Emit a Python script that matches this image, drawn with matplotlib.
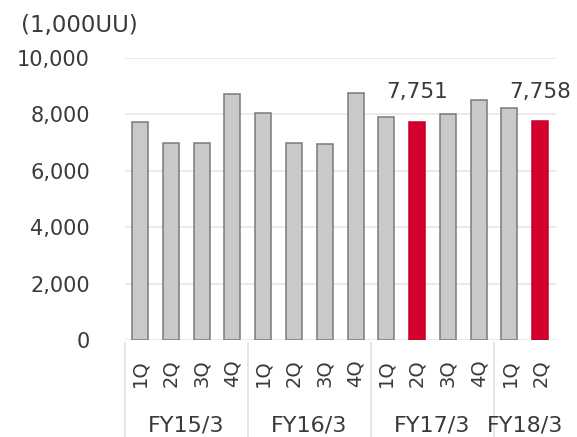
import matplotlib
matplotlib.use('Agg')
import matplotlib.pyplot as plt
import matplotlib.transforms as mtransforms
from matplotlib.lines import Line2D

# quarterly unique users (1,000UU)
years = ['FY15/3', 'FY16/3', 'FY17/3', 'FY18/3']
quarters = ['1Q', '2Q', '3Q', '4Q', '1Q', '2Q', '3Q', '4Q',
            '1Q', '2Q', '3Q', '4Q', '1Q', '2Q']
quarters_per_year = [4, 4, 4, 2]
uu = [7730, 6990, 6990, 8720,
      8050, 6990, 6970, 8780,
      7920, 7751, 8010, 8510,
      8220, 7758]
highlight = [9, 13]   # 2Q bars shown in red, with value labels

plt.rcParams['font.family'] = 'DejaVu Sans'
txt = '#3a3a3a'

fig = plt.figure(figsize=(5.77, 4.37), dpi=100)
ax = fig.add_axes([0.216, 0.222, 0.747, 0.645])

x = list(range(len(uu)))
colors = ['#d6002f' if i in highlight else '#c9c9c9' for i in x]
edges = ['#c4002a' if i in highlight else '#7a7a7a' for i in x]
ax.bar(x, uu, width=0.52, color=colors, edgecolor=edges, linewidth=1.1, zorder=3)

for i in highlight:
    ax.annotate(f'{uu[i]:,}', (i, uu[i]), xytext=(0, 14), textcoords='offset points',
                ha='center', va='bottom', fontsize=15.5, color=txt)

ax.set_xlim(-0.5, len(uu) - 0.5)
ax.set_ylim(0, 10000)
ax.set_yticks(range(0, 10001, 2000))
ax.set_yticklabels([f'{v:,}' for v in range(0, 10001, 2000)])
ax.yaxis.grid(True, color='#e6e6e6', linewidth=1.2, zorder=0)
ax.set_axisbelow(True)
for s in ax.spines.values():
    s.set_visible(False)
ax.tick_params(axis='y', length=0, pad=25, labelsize=15, labelcolor=txt)

ax.set_xticks(x)
ax.set_xticklabels(quarters, rotation=90, fontsize=14, color=txt)
ax.tick_params(axis='x', length=0, pad=14)

# fiscal year labels and separators under the quarters
trans = mtransforms.blended_transform_factory(ax.transData, ax.transAxes)
start = 0
for year, n in zip(years, quarters_per_year):
    ax.text(start + (n - 1) / 2, -0.302, year, transform=trans, ha='center',
            va='center', fontsize=16, color=txt)
    ax.add_line(Line2D([start - 0.5, start - 0.5], [-0.01, -0.35], transform=trans,
                       color='#e2e2e2', linewidth=1.2, clip_on=False))
    start += n

fig.text(0.036, 0.942, '(1,000UU)', fontsize=16.5, color=txt, va='center')

fig.savefig('out.png', dpi=100)
